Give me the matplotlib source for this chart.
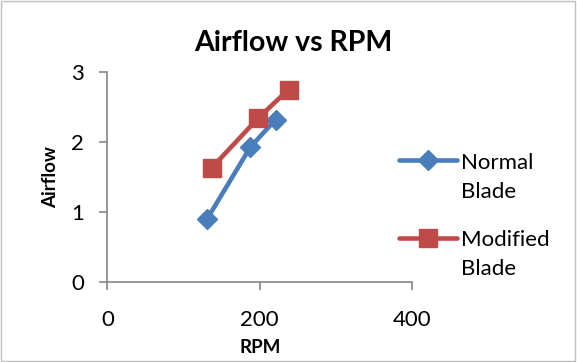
import matplotlib
matplotlib.use("Agg")
import matplotlib.pyplot as plt
from matplotlib.patches import Rectangle

# data
normal_rpm = [131, 188, 221]
normal_airflow = [0.90, 1.93, 2.32]
modified_rpm = [137, 198, 238]
modified_airflow = [1.63, 2.34, 2.75]
x_ticks = [0, 200, 400]
y_ticks = [0, 1, 2, 3]

BLUE = "#4A7EBB"
RED = "#BE4B48"
GREY = "#868686"

plt.rcParams["font.family"] = ["Lato", "DejaVu Sans"]

fig = plt.figure(figsize=(5.77, 3.62), dpi=100)
fig.patches.append(Rectangle((0.002, 0.003), 0.995, 0.993, transform=fig.transFigure,
                             fill=False, edgecolor="#BFBFBF", linewidth=1))
ax = fig.add_axes([0.1861, 0.221, 0.5276, 0.580])

ax.plot(normal_rpm, normal_airflow, color=BLUE, linewidth=3.3, marker="D",
        markersize=10.5, label="Normal\nBlade", solid_capstyle="round")
ax.plot(modified_rpm, modified_airflow, color=RED, linewidth=3.3, marker="s",
        markersize=12.5, label="Modified\nBlade", solid_capstyle="round")

ax.set_xlim(0, 400)
ax.set_ylim(0, 3)
ax.set_xticks(x_ticks)
ax.set_yticks(y_ticks)
for side in ("top", "right"):
    ax.spines[side].set_visible(False)
for side in ("left", "bottom"):
    ax.spines[side].set_color(GREY)
    ax.spines[side].set_linewidth(1.2)
ax.tick_params(colors=GREY, labelcolor="black", labelsize=16, length=6, width=1.2)
ax.tick_params(axis="x", pad=14)
ax.tick_params(axis="y", pad=11)

ax.set_xlabel("RPM", fontsize=13.5, fontweight="bold", va="center")
ax.set_ylabel("Airflow", fontsize=13.5, fontweight="bold", va="center")
ax.xaxis.set_label_coords(0.5016, -0.31)
ax.yaxis.set_label_coords(-0.188, 0.5)
fig.text(0.508, 0.881, "Airflow vs RPM", ha="center", va="center",
         fontsize=20.5, fontweight="bold")

leg = fig.legend(loc="upper left", bbox_to_anchor=(0.676, 0.603), frameon=False,
                 fontsize=16, handlelength=2.6, handletextpad=0.2, labelspacing=1.27,
                 borderaxespad=0)
for text in leg.get_texts():
    text.set_linespacing(1.57)
# keep the marker level with the first line of each two-line label
for column in leg._legend_handle_box.get_children():
    for item in column.get_children():
        item.align = "top"

fig.savefig("out.png", dpi=100)
